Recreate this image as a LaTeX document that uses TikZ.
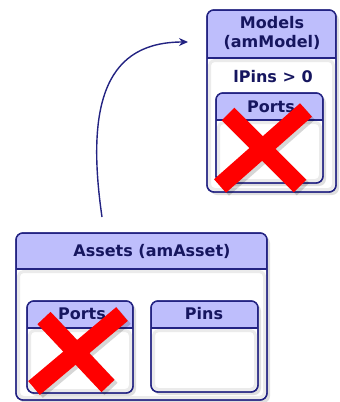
\documentclass[tikz,border=0pt]{standalone}
\usepackage{fontspec}
\setmainfont{DejaVu Sans}
\usetikzlibrary{shadows,arrows.meta,calc}
\definecolor{navy}{RGB}{35,35,130}
\definecolor{ink}{RGB}{22,22,95}
\definecolor{hdr}{RGB}{190,190,252}
\definecolor{xred}{RGB}{255,0,0}
\tikzset{
  frame/.style={draw=navy, line width=1.4pt, rounded corners=7pt, fill=white,
    outer sep=0pt, inner sep=0pt,
    drop shadow={shadow xshift=3pt, shadow yshift=-3pt, opacity=0.25}},
  hdrbox/.style={fill=hdr, draw=navy, line width=1.4pt, outer sep=0pt, inner sep=0pt},
  glow/.style={draw=gray!16, line width=3pt, rounded corners=5pt},
  border/.style={draw=navy, line width=1.4pt, rounded corners=7pt},
  lbl/.style={text=ink, font=\bfseries\fontsize{16}{19}\selectfont, inner sep=0pt, align=center},
  xstroke/.style={draw=xred, line width=18pt},
  xshadow/.style={draw=black, opacity=0.16, line width=18pt},
  link/.style={draw=navy, line width=1.4pt, -{Stealth[length=9pt,width=8pt]}}
}
\newcommand{\umlbox}[6]{%
  \node[frame, anchor=north west, minimum width=#4pt, minimum height=#5pt] (#1) at (#2,#3) {};
  \begin{scope}
    \clip[rounded corners=7pt] (#1.north west) rectangle (#1.south east);
    \node[hdrbox, anchor=north west, minimum width=#4pt, minimum height=#6pt] (#1H) at (#1.north west) {};
    \draw[glow] ($(#1H.south west)+(2.5,2.5)$) rectangle ($(#1.south east)+(-2.5,-2.5)$);
  \end{scope}
  \draw[border] (#1.north west) rectangle (#1.south east);
}
\begin{document}
\begin{tikzpicture}[x=1pt,y=-1pt]
\useasboundingbox (0,0) rectangle (340,402);
% Models
\umlbox{models}{207}{10}{129}{182}{48}
\node[lbl] (modelsT) at (272,33) {Models\\(amModel)};
\node[lbl] (cond) at (273,77) {lPins > 0};
\umlbox{mports}{216}{93}{107}{90}{27}
\node[lbl] (mportsT) at (271,107) {Ports};
% Assets
\umlbox{assets}{16}{233}{251}{167}{36}
\node[lbl] (assetsT) at (152,251) {Assets (amAsset)};
\umlbox{aports}{27}{301}{106}{92}{27}
\node[lbl] (aportsT) at (82,314) {Ports};
\umlbox{pins}{151}{301}{107}{91}{27}
\node[lbl] (pinsT) at (204,314) {Pins};
% red crosses
\begin{scope}[shift={(3,3)}]
  \draw[xshadow] (228,114) -- (300,186);
  \draw[xshadow] (306,110) -- (220,186);
  \draw[xshadow] (44,318) -- (108,386);
  \draw[xshadow] (122,314) -- (34,388);
\end{scope}
\draw[xstroke] (228,114) -- (300,186);
\draw[xstroke] (306,110) -- (220,186);
\draw[xstroke] (44,318) -- (108,386);
\draw[xstroke] (122,314) -- (34,388);
% connector
\coordinate (src) at (102,217);
\coordinate (dst) at (188,42);
\draw[link] (src) .. controls (85,100) and (108,42) .. (dst);
\end{tikzpicture}
\end{document}
